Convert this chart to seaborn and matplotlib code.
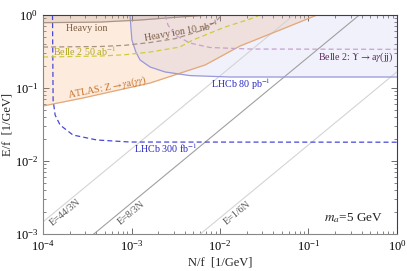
import matplotlib
matplotlib.use('Agg')
import matplotlib.pyplot as plt
import numpy as np
import pandas as pd
import seaborn as sns

# --- curves: (N/f, E/f) in 1/GeV ---
atlas_x = [1e-4, 2.83e-4, 1.62e-3, 6.8e-3, 0.0168, 0.0476, 0.125]
atlas_y = [0.0567, 0.073, 0.117, 0.207, 0.376, 0.623, 1.0]

lhcb80_x = [9.6e-4, 1.01e-3, 1.12e-3, 1.25e-3, 1.62e-3, 2.39e-3, 4.58e-3, 0.013, 1.0]
lhcb80_y = [1.0, 0.455, 0.311, 0.242, 0.194, 0.166, 0.148, 0.1415, 0.1415]

lhcb300_x = [1.28e-4, 1.30e-4, 1.37e-4, 1.56e-4, 2.18e-4, 4.07e-4, 9.6e-4, 1.0]
lhcb300_y = [1.0, 0.0685, 0.0427, 0.0311, 0.0227, 0.0194, 0.0182, 0.0181]

hion_x = [1e-4, 4.4e-4, 1.25e-3, 3.5e-3, 7.7e-3]
hion_y = [0.785, 0.80, 0.854, 0.939, 1.0]

hion10_x = [1e-4, 4.4e-4, 8.5e-4, 1.62e-3, 3.1e-3, 5.94e-3, 8.8e-3, 0.0105]
hion10_y = [0.364, 0.37, 0.385, 0.42, 0.474, 0.604, 0.80, 1.0]

belle50_x = [1e-4, 4.4e-4, 8.5e-4, 1.62e-3, 3.5e-3, 4.95e-3, 0.0114, 0.0218, 0.0283]
belle50_y = [0.266, 0.274, 0.286, 0.311, 0.364, 0.455, 0.685, 0.88, 1.0]

belleY_x = [2.4e-3, 2.58e-3, 3.1e-3, 4.58e-3, 7.7e-3, 0.0218, 1.0]
belleY_y = [1.0, 0.73, 0.532, 0.413, 0.359, 0.342, 0.339]

# E = k N reference lines
ratio_labels = ['E=44/3N', 'E=8/3N', 'E=1/6N']
ratio_k = [44/3, 8/3, 1/6]
ratio_colors = ['#d4d4d4', '#a0a0a0', '#d4d4d4']
n_span = [1e-4, 1.0]

sns.set_theme(style='ticks')
plt.rcParams['font.family'] = ['Liberation Serif', 'DejaVu Serif']
plt.rcParams['mathtext.fontset'] = 'stix'

fig = plt.figure(figsize=(4.07, 2.71), dpi=100)
ax = fig.add_axes([0.1057, 0.1365, 0.8697, 0.8081])
ax.set_xscale('log')
ax.set_yscale('log')
ax.set_xlim(1e-4, 1)
ax.set_ylim(1e-3, 1)

# shaded regions
ax.fill_between(atlas_x, atlas_y, 1, color='#f5a25d', alpha=0.2, lw=0)
ax.fill_between(lhcb80_x, lhcb80_y, 1, color='#8080e0', alpha=0.11, lw=0)
ax.fill_between(hion_x, hion_y, 1, color='#806050', alpha=0.12, lw=0)

def curve(x, y, **kw):
    df = pd.DataFrame({'x': x, 'y': y})
    sns.lineplot(data=df, x='x', y='y', sort=False, estimator=None, ax=ax, **kw)

for k, c in zip(ratio_k, ratio_colors):
    curve(n_span, [k * n for n in n_span], color=c, lw=0.8)

curve(atlas_x, atlas_y, color='#e2a878', lw=0.9)
curve(lhcb80_x, lhcb80_y, color='#9898dc', lw=0.9)
curve(hion_x, hion_y, color='#a89488', lw=0.9)
curve(lhcb300_x, lhcb300_y, color='#4848d8', lw=0.9, dashes=(4, 2.5))
curve(hion10_x, hion10_y, color='#a89080', lw=0.9, dashes=(4, 2.5))
curve(belle50_x, belle50_y, color='#cccc40', lw=0.9, dashes=(4, 2.5))
curve(belleY_x, belleY_y, color='#c8a0cc', lw=0.9, dashes=(4, 2.5))

# texts
fs = 7.2
ax.text(3.1e-4, 0.66, 'Heavy ion', color='#7a5a40', fontsize=fs, ha='center', va='center')
ax.text(3.62e-3, 0.585, r'Heavy ion 10 nb$^{-1}$', color='#7a5a40', fontsize=fs,
        ha='center', va='center', rotation=10)
ax.text(2.9e-4, 0.32, r'Belle 2 50 ab$^{-1}$', color='#b0a818', fontsize=fs, ha='center', va='center')
ax.text(5.3e-4, 0.10, r'ATLAS: Z$\rightarrow\gamma$a($\gamma\gamma$)', color='#c87028', fontsize=fs,
        ha='center', va='center', rotation=11)
ax.text(0.0173, 0.112, r'LHCb 80 pb$^{-1}$', color='#2828c0', fontsize=fs, ha='center', va='center')
ax.text(2.4e-3, 0.0152, r'LHCb 300 fb$^{-1}$', color='#2828c0', fontsize=fs, ha='center', va='center')
ax.text(0.34, 0.266, r'Belle 2: $\Upsilon\rightarrow$a$\gamma$(jj)', color='#5a2a5a', fontsize=fs,
        ha='center', va='center')
for lab, xx in zip(ratio_labels, [1.77e-4, 1.0e-3, 0.0158]):
    ax.text(xx, 1.95e-3, lab, color='#555555', fontsize=fs, ha='center', va='center', rotation=39.5)
ax.text(0.32, 1.66e-3, r'$m_a$=5 GeV', fontsize=9.5, ha='center', va='center', color='#222222')

ax.set_xlabel('N/f  [1/GeV]', fontsize=9, labelpad=2)
ax.set_ylabel('E/f  [1/GeV]', fontsize=9, labelpad=1)

ax.tick_params(which='both', direction='in', top=True, right=True, labelsize=9, colors='#555555',
               labelcolor='black')
ax.tick_params(which='major', length=4, width=0.6)
ax.tick_params(which='minor', length=2, width=0.5)
ax.xaxis.set_minor_locator(matplotlib.ticker.LogLocator(base=10, subs=np.arange(2, 10), numticks=20))
ax.yaxis.set_minor_locator(matplotlib.ticker.LogLocator(base=10, subs=np.arange(2, 10), numticks=20))
for s in ['left', 'bottom']:
    ax.spines[s].set_color('#888888')
    ax.spines[s].set_linewidth(0.8)
for s in ['top', 'right']:
    ax.spines[s].set_color('#3a3a6a')
    ax.spines[s].set_linewidth(0.8)

fig.savefig('out.png', dpi=100)
